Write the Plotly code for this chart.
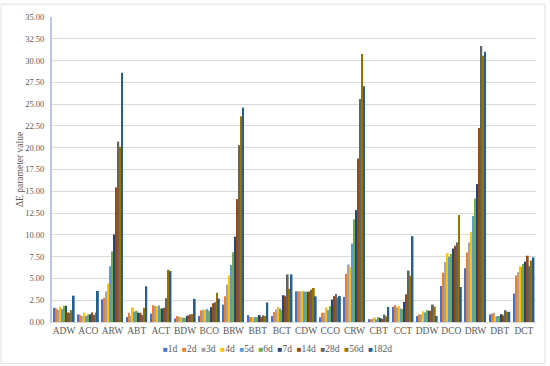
import plotly.graph_objects as go

categories = ["ADW", "ACO", "ARW", "ABT", "ACT", "BDW", "BCO", "BRW", "BBT", "BCT",
              "CDW", "CCO", "CRW", "CBT", "CCT", "DDW", "DCO", "DRW", "DBT", "DCT"]
series_names = ["1d", "2d", "3d", "4d", "5d", "6d", "7d", "14d", "28d", "56d", "182d"]
colors = ["#4472C4", "#ED7D31", "#A5A5A5", "#FFC000", "#5B9BD5", "#70AD47",
          "#264478", "#9E480E", "#636363", "#997300", "#255E91"]

d1 = [1.63, 0.87, 2.60, 0.57, 0.95, 0.40, 0.68, 2.00, 0.80, 0.68, 3.52, 0.53, 2.88, 0.32, 1.74, 0.68, 4.13, 6.17, 0.87, 3.26]
d2 = [1.55, 0.76, 2.78, 1.06, 1.93, 0.68, 1.33, 2.95, 0.57, 1.14, 3.52, 1.06, 5.53, 0.32, 1.93, 0.87, 5.65, 7.99, 0.98, 5.34]
d3 = [1.37, 0.68, 3.50, 0.68, 1.82, 0.57, 1.40, 4.28, 0.57, 1.44, 3.52, 1.06, 6.60, 0.40, 1.67, 0.87, 6.88, 9.13, 1.06, 5.72]
d4 = [1.74, 1.06, 4.40, 1.67, 1.82, 0.57, 1.40, 5.34, 0.49, 1.74, 3.52, 1.67, 6.29, 0.51, 1.82, 1.23, 7.90, 10.34, 0.68, 6.40]
d5 = [1.48, 0.68, 6.40, 1.18, 1.88, 0.49, 1.50, 6.55, 0.57, 1.55, 3.52, 1.35, 9.00, 0.30, 1.55, 1.10, 7.47, 12.16, 0.68, 6.29]
d6 = [1.86, 0.87, 8.10, 1.29, 1.55, 0.49, 1.27, 8.00, 0.57, 1.37, 3.47, 1.82, 11.78, 0.57, 1.48, 1.37, 7.80, 14.17, 0.68, 6.67]
d7 = [1.86, 0.87, 10.05, 1.06, 1.55, 0.68, 1.70, 9.80, 0.80, 3.07, 3.47, 2.58, 12.84, 0.45, 2.31, 1.29, 8.43, 15.83, 0.90, 6.93]
d14 = [1.10, 1.10, 15.45, 1.06, 1.63, 0.76, 2.15, 14.10, 0.57, 2.96, 3.48, 2.97, 18.75, 0.36, 3.18, 1.29, 8.75, 22.27, 0.76, 7.61]
d28 = [1.06, 0.80, 20.70, 0.80, 2.73, 0.87, 2.27, 20.30, 0.76, 5.46, 3.71, 3.22, 25.60, 0.85, 5.90, 2.00, 9.12, 31.67, 1.36, 6.40]
d56 = [1.37, 1.10, 20.10, 1.63, 6.00, 0.91, 3.35, 23.60, 0.68, 3.81, 3.90, 2.78, 30.75, 0.64, 5.30, 1.77, 12.28, 30.55, 1.17, 7.05]
d182 = [3.02, 3.56, 28.60, 4.10, 5.84, 2.66, 2.69, 24.60, 2.24, 5.46, 2.94, 2.97, 27.05, 1.72, 9.85, 0.68, 4.02, 31.00, 1.17, 7.42]

series_values = [d1, d2, d3, d4, d5, d6, d7, d14, d28, d56, d182]

FONT = "Liberation Serif"
TXT = "#595959"

fig = go.Figure()
for name, vals, col in zip(series_names, series_values, colors):
    fig.add_trace(go.Bar(x=categories, y=vals, name=name, marker_color=col,
                         marker_line_width=0))

legend_text = "&nbsp; ".join(
    f"<span style='color:{c};font-size:8px'>■</span>{n}"
    for n, c in zip(series_names, colors))

W, H = 550, 366
L, R, T, B = 52, 14, 14, 44
pw, ph = W - L - R, H - T - B

fig.update_layout(
    width=W, height=H,
    margin=dict(l=L, r=R, t=T, b=B),
    paper_bgcolor="white", plot_bgcolor="white",
    barmode="group", bargap=0.13, bargroupgap=0,
    showlegend=False,
    font=dict(family=FONT, size=9, color=TXT),
    xaxis=dict(showgrid=False, showline=True, linecolor="#D9D9D9", linewidth=1,
               ticks="", tickfont=dict(family=FONT, size=9.5, color=TXT)),
    yaxis=dict(range=[0, 35], dtick=2.5, tickformat=".2f", showgrid=True,
               gridcolor="#D9D9D9", gridwidth=1, zeroline=False,
               showline=True, linecolor="#B4C7E7", linewidth=2,
               ticks="", ticklabelstandoff=4,
               tickfont=dict(family=FONT, size=8.5, color=TXT),
               title=dict(text="ΔE parameter value", standoff=0,
                          font=dict(family=FONT, size=9.5, color=TXT))),
    annotations=[dict(text=legend_text, xref="paper", yref="paper",
                      x=(277 - L) / pw, y=-(349 - (H - B)) / ph,
                      xanchor="center", yanchor="middle", showarrow=False,
                      font=dict(family=FONT, size=9.5, color=TXT))],
    shapes=[dict(type="rect", xref="paper", yref="paper",
                 x0=(1 - L) / pw, x1=(545 - L) / pw,
                 y0=-(364 - (H - B)) / ph, y1=1 + (T - 1) / ph,
                 line=dict(color="#E0E0E0", width=1), layer="below")],
)

fig.write_html("out.html", config={"displayModeBar": False},
               post_script="document.body.style.margin='0';document.body.style.padding='0';")
